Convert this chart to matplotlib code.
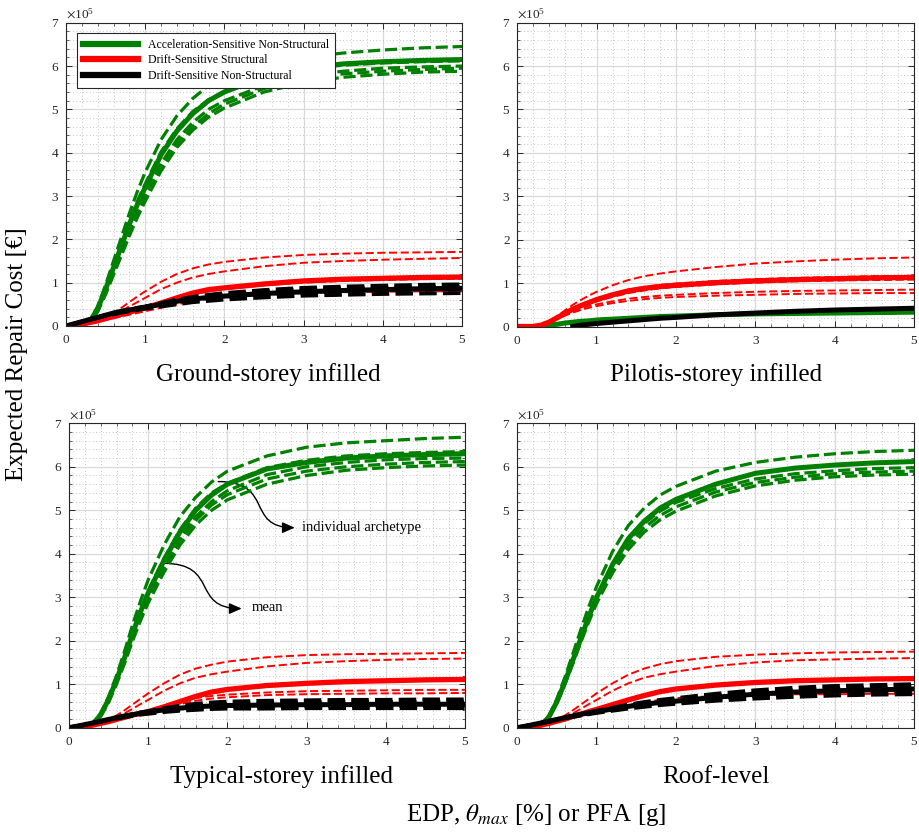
import numpy as np
import matplotlib
matplotlib.use('Agg')
import matplotlib.pyplot as plt
from matplotlib.ticker import MultipleLocator, ScalarFormatter
from matplotlib.patches import FancyArrowPatch
from matplotlib.path import Path
from matplotlib.lines import Line2D

plt.rcParams['font.family'] = 'serif'
plt.rcParams['font.serif'] = ['Liberation Serif', 'DejaVu Serif']
plt.rcParams['mathtext.fontset'] = 'stix'

# EDP values (x axis), costs in units of 1e5 EUR
edp = [0, 0.2, 0.3, 0.4, 0.5, 0.6, 0.7, 0.8, 0.9, 1.0, 1.2, 1.4, 1.6, 1.8, 2.0, 2.5, 3.0, 3.5, 4.0, 4.5, 5.0]
nan = np.nan

# --- Ground-storey infilled
ground_g_mean = [0, 0.02, 0.1, 0.4, 0.85, 1.35, 1.85, 2.35, 2.8, 3.2, 3.95, 4.5, 4.9, 5.2, 5.4, 5.75, 5.95, 6.05, 6.1, 6.13, 6.15]
ground_g_ind = [
    [0, 0.02, 0.12, 0.45, 0.95, 1.5, 2.05, 2.6, 3.1, 3.55, 4.3, 4.85, 5.25, 5.55, 5.75, 6.05, 6.2, 6.3, 6.37, 6.42, 6.45],
    [0, 0.02, 0.1, 0.42, 0.88, 1.4, 1.9, 2.42, 2.88, 3.28, 4.02, 4.55, 4.95, 5.22, 5.42, 5.75, 5.93, 6.02, 6.07, 6.1, 6.12],
    [0, 0.02, 0.09, 0.37, 0.8, 1.28, 1.75, 2.22, 2.65, 3.05, 3.75, 4.3, 4.7, 5.0, 5.2, 5.55, 5.78, 5.88, 5.95, 5.98, 6.0],
    [0, 0.02, 0.08, 0.35, 0.76, 1.22, 1.68, 2.14, 2.56, 2.95, 3.65, 4.2, 4.6, 4.9, 5.12, 5.48, 5.7, 5.82, 5.88, 5.92, 5.95],
    [0, 0.02, 0.08, 0.33, 0.73, 1.18, 1.63, 2.08, 2.5, 2.88, 3.58, 4.12, 4.52, 4.82, 5.03, 5.4, 5.62, 5.74, 5.81, 5.86, 5.88],
]
ground_r_mean = [0, 0.05, 0.08, 0.12, 0.17, 0.22, 0.27, 0.32, 0.37, 0.42, 0.53, 0.65, 0.76, 0.84, 0.88, 0.97, 1.04, 1.08, 1.1, 1.12, 1.13]
ground_r_ind = [
    [0, 0.05, 0.08, 0.13, 0.2, 0.3, 0.42, 0.55, 0.68, 0.8, 1.02, 1.2, 1.33, 1.42, 1.48, 1.58, 1.64, 1.67, 1.69, 1.7, 1.71],
    [0, 0.05, 0.08, 0.12, 0.18, 0.26, 0.35, 0.45, 0.55, 0.65, 0.85, 1.0, 1.12, 1.2, 1.26, 1.38, 1.46, 1.5, 1.53, 1.55, 1.57],
    [0, 0.05, 0.08, 0.12, 0.17, 0.22, 0.27, 0.32, 0.37, 0.42, 0.52, 0.63, 0.73, 0.8, 0.85, 0.94, 1.0, 1.04, 1.06, 1.08, 1.09],
    [0, 0.04, 0.07, 0.1, 0.14, 0.18, 0.22, 0.26, 0.3, 0.34, 0.42, 0.5, 0.57, 0.62, 0.66, 0.72, 0.76, 0.78, 0.79, 0.8, 0.8],
]
ground_b_mean = [0, 0.1, 0.15, 0.2, 0.25, 0.3, 0.34, 0.37, 0.4, 0.43, 0.5, 0.57, 0.62, 0.66, 0.69, 0.75, 0.79, 0.82, 0.84, 0.86, 0.87]
ground_b_ind = [
    [0, 0.1, 0.15, 0.2, 0.25, 0.3, 0.34, 0.38, 0.42, 0.45, 0.53, 0.61, 0.67, 0.72, 0.76, 0.83, 0.88, 0.91, 0.93, 0.95, 0.96],
    [0, 0.1, 0.15, 0.2, 0.25, 0.29, 0.33, 0.36, 0.39, 0.42, 0.48, 0.55, 0.6, 0.64, 0.67, 0.73, 0.77, 0.8, 0.82, 0.84, 0.85],
    [0, 0.09, 0.14, 0.19, 0.23, 0.27, 0.31, 0.34, 0.37, 0.4, 0.45, 0.5, 0.55, 0.58, 0.61, 0.66, 0.7, 0.72, 0.74, 0.75, 0.76],
    [0, 0.1, 0.15, 0.2, 0.25, 0.3, 0.34, 0.37, 0.41, 0.44, 0.51, 0.58, 0.64, 0.68, 0.72, 0.79, 0.84, 0.87, 0.89, 0.9, 0.91],
]

# --- Pilotis-storey infilled
pilotis_g_mean = [0, 0.0, 0.01, 0.03, 0.05, 0.08, 0.1, 0.12, 0.13, 0.15, 0.17, 0.19, 0.21, 0.23, 0.24, 0.27, 0.29, 0.3, 0.31, 0.32, 0.33]
pilotis_g_ind = []
pilotis_r_mean = [0, 0.0, 0.03, 0.1, 0.2, 0.3, 0.4, 0.48, 0.55, 0.62, 0.73, 0.82, 0.88, 0.92, 0.95, 1.01, 1.05, 1.08, 1.1, 1.12, 1.13]
pilotis_r_ind = [
    [0, 0, 0.04, 0.12, 0.24, 0.37, 0.5, 0.61, 0.71, 0.8, 0.95, 1.07, 1.16, 1.22, 1.27, 1.37, 1.45, 1.5, 1.54, 1.57, 1.59],
    [0, 0, 0.03, 0.1, 0.21, 0.31, 0.41, 0.5, 0.57, 0.64, 0.76, 0.85, 0.91, 0.96, 0.99, 1.05, 1.09, 1.12, 1.14, 1.16, 1.17],
    [0, 0, 0.03, 0.1, 0.19, 0.28, 0.37, 0.45, 0.52, 0.58, 0.68, 0.77, 0.83, 0.88, 0.91, 0.97, 1.01, 1.04, 1.06, 1.07, 1.08],
    [0, 0, 0.03, 0.1, 0.18, 0.27, 0.35, 0.42, 0.47, 0.51, 0.58, 0.64, 0.68, 0.71, 0.73, 0.77, 0.8, 0.82, 0.83, 0.84, 0.85],
    [0, 0, 0.03, 0.09, 0.17, 0.25, 0.32, 0.38, 0.43, 0.47, 0.54, 0.59, 0.63, 0.66, 0.68, 0.71, 0.73, 0.75, 0.76, 0.77, 0.77],
]
pilotis_b_mean = [nan, nan, nan, nan, nan, nan, 0.0, 0.03, 0.05, 0.07, 0.1, 0.13, 0.16, 0.19, 0.21, 0.27, 0.31, 0.35, 0.38, 0.4, 0.42]
pilotis_b_ind = []

# --- Typical-storey infilled
typical_g_mean = [0, 0.01, 0.08, 0.3, 0.65, 1.1, 1.6, 2.15, 2.65, 3.1, 3.85, 4.5, 5.0, 5.35, 5.6, 5.95, 6.1, 6.2, 6.25, 6.28, 6.3]
typical_g_ind = [
    [0, 0.01, 0.09, 0.33, 0.72, 1.2, 1.75, 2.35, 2.9, 3.4, 4.2, 4.85, 5.3, 5.65, 5.9, 6.25, 6.45, 6.55, 6.6, 6.65, 6.68],
    [0, 0.01, 0.08, 0.31, 0.67, 1.13, 1.64, 2.2, 2.7, 3.15, 3.9, 4.55, 5.05, 5.4, 5.62, 5.98, 6.15, 6.25, 6.3, 6.33, 6.35],
    [0, 0.01, 0.07, 0.29, 0.63, 1.07, 1.56, 2.1, 2.58, 3.02, 3.75, 4.38, 4.85, 5.2, 5.45, 5.82, 6.0, 6.1, 6.16, 6.19, 6.2],
    [0, 0.01, 0.07, 0.28, 0.61, 1.04, 1.52, 2.04, 2.52, 2.95, 3.68, 4.3, 4.77, 5.12, 5.36, 5.72, 5.9, 6.0, 6.06, 6.1, 6.12],
    [0, 0.01, 0.06, 0.26, 0.58, 1.0, 1.47, 1.98, 2.45, 2.87, 3.58, 4.2, 4.66, 5.0, 5.24, 5.6, 5.8, 5.92, 5.98, 6.02, 6.04],
]
typical_r_mean = [0, 0.03, 0.06, 0.1, 0.14, 0.19, 0.24, 0.29, 0.33, 0.37, 0.48, 0.6, 0.72, 0.82, 0.88, 0.97, 1.02, 1.06, 1.08, 1.1, 1.11]
typical_r_ind = [
    [0, 0.03, 0.06, 0.11, 0.18, 0.28, 0.4, 0.53, 0.66, 0.79, 1.02, 1.22, 1.36, 1.45, 1.52, 1.62, 1.67, 1.69, 1.7, 1.71, 1.72],
    [0, 0.03, 0.06, 0.1, 0.16, 0.24, 0.33, 0.43, 0.54, 0.64, 0.85, 1.02, 1.15, 1.23, 1.29, 1.41, 1.49, 1.53, 1.56, 1.58, 1.59],
    [0, 0.03, 0.06, 0.1, 0.14, 0.19, 0.24, 0.29, 0.34, 0.39, 0.5, 0.6, 0.68, 0.73, 0.76, 0.81, 0.84, 0.85, 0.86, 0.87, 0.87],
    [0, 0.03, 0.05, 0.09, 0.13, 0.18, 0.22, 0.27, 0.31, 0.35, 0.44, 0.54, 0.62, 0.67, 0.7, 0.75, 0.77, 0.78, 0.79, 0.79, 0.8],
]
typical_b_mean = [0, 0.07, 0.11, 0.15, 0.19, 0.23, 0.27, 0.3, 0.33, 0.36, 0.41, 0.45, 0.48, 0.5, 0.51, 0.52, 0.53, 0.53, 0.54, 0.54, 0.54]
typical_b_ind = [
    [0, 0.07, 0.11, 0.15, 0.19, 0.23, 0.27, 0.31, 0.35, 0.38, 0.45, 0.5, 0.55, 0.58, 0.6, 0.62, 0.63, 0.64, 0.64, 0.65, 0.65],
    [0, 0.07, 0.11, 0.15, 0.19, 0.23, 0.27, 0.3, 0.34, 0.37, 0.42, 0.47, 0.5, 0.53, 0.55, 0.57, 0.58, 0.59, 0.59, 0.6, 0.6],
    [0, 0.07, 0.1, 0.14, 0.18, 0.22, 0.26, 0.29, 0.32, 0.34, 0.39, 0.42, 0.45, 0.46, 0.47, 0.48, 0.49, 0.49, 0.5, 0.5, 0.5],
    [0, 0.06, 0.1, 0.14, 0.18, 0.21, 0.24, 0.27, 0.3, 0.32, 0.36, 0.39, 0.41, 0.43, 0.44, 0.44, 0.45, 0.45, 0.45, 0.45, 0.45],
]

# --- Roof-level
roof_g_mean = [0, 0.01, 0.06, 0.25, 0.6, 1.05, 1.55, 2.05, 2.55, 3.0, 3.75, 4.35, 4.75, 5.05, 5.25, 5.6, 5.85, 5.97, 6.04, 6.09, 6.12]
roof_g_ind = [
    [0, 0.01, 0.07, 0.28, 0.67, 1.16, 1.7, 2.25, 2.78, 3.25, 4.05, 4.65, 5.05, 5.35, 5.55, 5.9, 6.1, 6.22, 6.3, 6.35, 6.38],
    [0, 0.01, 0.06, 0.26, 0.62, 1.08, 1.58, 2.08, 2.58, 3.02, 3.75, 4.3, 4.7, 4.98, 5.18, 5.5, 5.72, 5.84, 5.91, 5.96, 5.98],
    [0, 0.01, 0.06, 0.25, 0.6, 1.04, 1.52, 2.02, 2.5, 2.93, 3.65, 4.2, 4.6, 4.88, 5.08, 5.42, 5.64, 5.76, 5.84, 5.88, 5.9],
    [0, 0.01, 0.05, 0.24, 0.58, 1.0, 1.47, 1.96, 2.43, 2.86, 3.56, 4.1, 4.5, 4.78, 4.98, 5.33, 5.56, 5.69, 5.77, 5.81, 5.83],
]
roof_r_mean = [0, 0.03, 0.06, 0.1, 0.15, 0.2, 0.26, 0.31, 0.37, 0.42, 0.53, 0.64, 0.74, 0.83, 0.89, 0.98, 1.04, 1.08, 1.1, 1.12, 1.13]
roof_r_ind = [
    [0, 0.03, 0.06, 0.11, 0.18, 0.28, 0.4, 0.53, 0.66, 0.79, 1.02, 1.22, 1.36, 1.46, 1.53, 1.63, 1.68, 1.71, 1.73, 1.74, 1.75],
    [0, 0.03, 0.06, 0.1, 0.16, 0.24, 0.33, 0.43, 0.54, 0.64, 0.85, 1.02, 1.15, 1.23, 1.29, 1.42, 1.5, 1.55, 1.57, 1.59, 1.6],
    [0, 0.03, 0.05, 0.09, 0.13, 0.17, 0.22, 0.26, 0.3, 0.34, 0.43, 0.52, 0.59, 0.64, 0.68, 0.73, 0.75, 0.77, 0.77, 0.78, 0.78],
]
roof_b_mean = [0, 0.07, 0.11, 0.15, 0.19, 0.23, 0.27, 0.31, 0.34, 0.37, 0.43, 0.49, 0.54, 0.58, 0.61, 0.7, 0.77, 0.82, 0.85, 0.87, 0.89]
roof_b_ind = [
    [0, 0.07, 0.11, 0.15, 0.19, 0.23, 0.27, 0.31, 0.35, 0.39, 0.46, 0.53, 0.59, 0.64, 0.68, 0.78, 0.86, 0.92, 0.96, 0.98, 1.0],
    [0, 0.07, 0.11, 0.15, 0.19, 0.23, 0.27, 0.3, 0.33, 0.36, 0.42, 0.47, 0.52, 0.56, 0.59, 0.67, 0.73, 0.78, 0.81, 0.83, 0.84],
    [0, 0.06, 0.1, 0.14, 0.18, 0.22, 0.25, 0.28, 0.31, 0.34, 0.39, 0.44, 0.48, 0.52, 0.55, 0.62, 0.67, 0.71, 0.74, 0.76, 0.77],
    [0, 0.07, 0.11, 0.15, 0.19, 0.23, 0.27, 0.31, 0.34, 0.38, 0.44, 0.5, 0.56, 0.6, 0.64, 0.73, 0.8, 0.86, 0.9, 0.92, 0.94],
]

titles = ['Ground-storey infilled', 'Pilotis-storey infilled', 'Typical-storey infilled', 'Roof-level']
legend_labels = ['Acceleration-Sensitive Non-Structural', 'Drift-Sensitive Structural', 'Drift-Sensitive Non-Structural']

GREEN = '#008000'
RED = '#ff0000'
BLACK = '#000000'
AX_COL = '#262626'
W, H = 920.0, 836.0


def draw_panel(ax, g_mean, g_ind, r_mean, r_ind, b_mean, b_ind):
    x = np.array(edp)
    for y in g_ind:
        ax.plot(x, np.array(y) * 1e5, color=GREEN, lw=2.3, ls='--', dashes=(3.8, 1.5))
    ax.plot(x, np.array(g_mean) * 1e5, color=GREEN, lw=3.6)
    for y in r_ind:
        ax.plot(x, np.array(y) * 1e5, color=RED, lw=1.4, ls='--', dashes=(4.2, 1.8))
    ax.plot(x, np.array(r_mean) * 1e5, color=RED, lw=3.8)
    for y in b_ind:
        ax.plot(x, np.array(y) * 1e5, color=BLACK, lw=2.8, ls='--', dashes=(4.5, 1.6))
    ax.plot(x, np.array(b_mean) * 1e5, color=BLACK, lw=3.6)

    ax.set_xlim(0, 5)
    ax.set_ylim(0, 7e5)
    ax.xaxis.set_major_locator(MultipleLocator(1))
    ax.xaxis.set_minor_locator(MultipleLocator(0.2))
    ax.yaxis.set_major_locator(MultipleLocator(1e5))
    ax.yaxis.set_minor_locator(MultipleLocator(0.2e5))
    fmt = ScalarFormatter(useMathText=True)
    fmt.set_powerlimits((0, 0))
    ax.yaxis.set_major_formatter(fmt)
    ax.yaxis.get_offset_text().set_fontsize(9.5)
    ax.yaxis.get_offset_text().set_color(AX_COL)

    ax.grid(which='major', color='#d9d9d9', lw=0.9, ls='-')
    ax.grid(which='minor', color='#b5b5b5', lw=0.6, ls=(0, (1, 3)))
    ax.set_axisbelow(True)
    ax.tick_params(which='both', direction='in', top=True, right=True, colors=AX_COL, labelsize=9.5)
    ax.tick_params(which='major', length=4, width=0.7)
    ax.tick_params(which='minor', length=2, width=0.5)
    ax.tick_params(axis='x', pad=6)
    ax.tick_params(axis='y', pad=5)
    for s in ax.spines.values():
        s.set_color(AX_COL)
        s.set_linewidth(0.8)


def s_arrow(ax, p0, p1, p2, p3):
    verts = [(p[0], p[1] * 1e5) for p in (p0, p1, p2, p3)]
    path = Path(verts, [Path.MOVETO, Path.CURVE4, Path.CURVE4, Path.CURVE4])
    arr = FancyArrowPatch(path=path, arrowstyle='-|>,head_length=0.5,head_width=0.22',
                          mutation_scale=15, color='black', lw=1.0, transform=ax.transData)
    ax.add_patch(arr)


fig = plt.figure(figsize=(9.2, 8.36), dpi=100)

ax_tl = fig.add_axes([66 / W, 1 - 326 / H, 396 / W, 303.3 / H])
ax_tr = fig.add_axes([517.3 / W, 1 - 326.5 / H, 396.7 / W, 303.8 / H])
ax_bl = fig.add_axes([69 / W, 1 - 727.7 / H, 396 / W, 304.4 / H])
ax_br = fig.add_axes([517.3 / W, 1 - 727.7 / H, 396.7 / W, 304.4 / H])

draw_panel(ax_tl, ground_g_mean, ground_g_ind, ground_r_mean, ground_r_ind, ground_b_mean, ground_b_ind)
draw_panel(ax_tr, pilotis_g_mean, pilotis_g_ind, pilotis_r_mean, pilotis_r_ind, pilotis_b_mean, pilotis_b_ind)
draw_panel(ax_bl, typical_g_mean, typical_g_ind, typical_r_mean, typical_r_ind, typical_b_mean, typical_b_ind)
draw_panel(ax_br, roof_g_mean, roof_g_ind, roof_r_mean, roof_r_ind, roof_b_mean, roof_b_ind)

# legend in first panel
handles = [Line2D([0], [0], color=c, lw=4.5) for c in (GREEN, RED, BLACK)]
leg = ax_tl.legend(handles, legend_labels, loc='upper left', bbox_to_anchor=(0.028, 0.966),
                   borderaxespad=0, fontsize=8.5, handlelength=4.7, handletextpad=0.8,
                   labelspacing=0.3, fancybox=False, framealpha=1, edgecolor=AX_COL,
                   borderpad=0.5)
leg.get_frame().set_linewidth(0.8)

# annotations on typical-storey panel
s_arrow(ax_bl, (1.885, 5.66), (2.60, 5.66), (2.22, 4.6), (2.85, 4.6))
ax_bl.text(2.94, 4.6e5, 'individual archetype', fontsize=10.5, va='center', ha='left')
s_arrow(ax_bl, (1.19, 3.78), (1.91, 3.78), (1.53, 2.74), (2.18, 2.74))
ax_bl.text(2.31, 2.77e5, 'mean', fontsize=10.5, va='center', ha='left')

# panel captions
fig.text(268 / W, 1 - 381.5 / H, titles[0], fontsize=18, ha='center', va='baseline')
fig.text(716.5 / W, 1 - 381.5 / H, titles[1], fontsize=18, ha='center', va='baseline')
fig.text(282 / W, 1 - 783.3 / H, titles[2], fontsize=18, ha='center', va='baseline')
fig.text(716 / W, 1 - 783.3 / H, titles[3], fontsize=18, ha='center', va='baseline')

fig.text(406 / W, 1 - 821.5 / H, r'EDP, $\theta_{max}$ [%] or PFA [g]', fontsize=18, ha='left', va='baseline')
fig.text(17 / W, 1 - 354 / H, 'Expected Repair Cost [€]', fontsize=18, rotation=90, ha='center', va='center')

fig.savefig('out.png', dpi=100)
